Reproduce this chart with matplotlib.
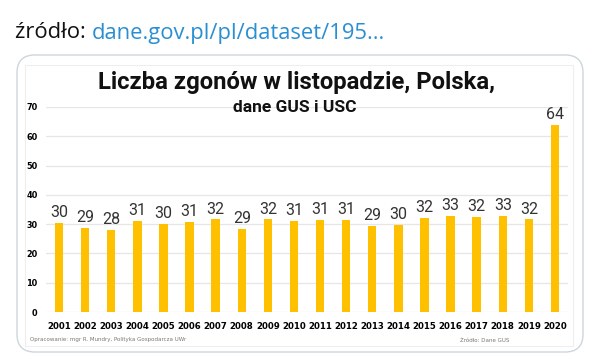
import numpy as np
import matplotlib
matplotlib.use("Agg")
import matplotlib.pyplot as plt
from matplotlib.patches import FancyBboxPatch, Rectangle

# dane: liczba zgonow w listopadzie (tys.)
years = [str(y) for y in range(2001, 2021)]
deaths = [30.3, 28.7, 27.9, 31.2, 30.1, 30.7, 31.6, 28.4, 31.6, 31.1,
          31.3, 31.5, 29.3, 29.8, 32.2, 32.7, 32.5, 32.7, 31.6, 64.0]
labels = [30, 29, 28, 31, 30, 31, 32, 29, 32, 31,
          31, 31, 29, 30, 32, 33, 32, 33, 32, 64]
yticks = [0, 10, 20, 30, 40, 50, 60, 70]

W, H = 594, 358
fig = plt.figure(figsize=(W / 100, H / 100), dpi=100)
fig.patch.set_facecolor("white")

def fx(px):
    return px / W

def fy(py):
    return 1 - py / H

# naglowek tweeta
t1 = fig.text(fx(15), fy(33), "źródło: ", fontsize=15.8, family="Open Sans",
              color="#111111", va="center")
fig.canvas.draw()
bb = t1.get_window_extent()
fig.text(bb.x1 / W, fy(33), "dane.gov.pl/pl/dataset/195...", fontsize=15.8,
         family="Open Sans", color="#2a8fd1", va="center")

# ramka karty
card = FancyBboxPatch((fx(17), fy(352)), fx(583) - fx(17), fy(55) - fy(352),
                      boxstyle="round,pad=0,rounding_size=0.03",
                      transform=fig.transFigure, fill=False,
                      edgecolor="#cdd6dc", linewidth=1.0,
                      mutation_aspect=W / H)
fig.patches.append(card)
inner = Rectangle((fx(25), fy(346)), fx(573) - fx(25), fy(65) - fy(346),
                  transform=fig.transFigure, fill=False,
                  edgecolor="#eeeeee", linewidth=0.8)
fig.patches.append(inner)

ax = fig.add_axes([fx(46), fy(312), fx(568) - fx(46), fy(107) - fy(312)])
x = np.arange(len(years))
ax.bar(x, deaths, width=0.32, color="#ffc000", zorder=3)
for xi, v, lab in zip(x, deaths, labels):
    ax.text(xi, v + 1.0, str(lab), ha="center", va="bottom", fontsize=11.5,
            family="Roboto", color="#333333", clip_on=False)

ax.set_xlim(-0.5, len(years) - 0.5)
ax.set_ylim(0, 70)
ax.set_yticks(yticks)
ax.set_xticks(x)
ax.set_xticklabels(years, fontsize=6.2, fontweight="bold")
ax.set_yticklabels([str(t) for t in yticks], fontsize=5.9, fontweight="bold")
ax.tick_params(axis="x", length=0, pad=7)
ax.tick_params(axis="y", length=0, pad=6)
ax.grid(axis="y", color="#e6e6e6", linewidth=0.9, zorder=0)
for s in ax.spines.values():
    s.set_visible(False)
ax.set_facecolor("none")

fig.text(fx(296), fy(83), "Liczba zgonów w listopadzie, Polska,",
         ha="center", va="center", fontsize=17.2, fontweight="bold",
         family="Roboto", color="#111111")
fig.text(fx(295), fy(107), "dane GUS i USC", ha="center", va="center",
         fontsize=12.5, fontweight="bold", family="Roboto", color="#111111")

fig.text(fx(30), fy(340), "Opracowanie: mgr R. Mundry, Polityka Gospodarcza UWr",
         fontsize=4, color="#777777", va="center")
fig.text(fx(460), fy(340), "Źródło: Dane GUS", fontsize=4, color="#777777",
         va="center")

fig.savefig("out.png", dpi=100, facecolor="white")
